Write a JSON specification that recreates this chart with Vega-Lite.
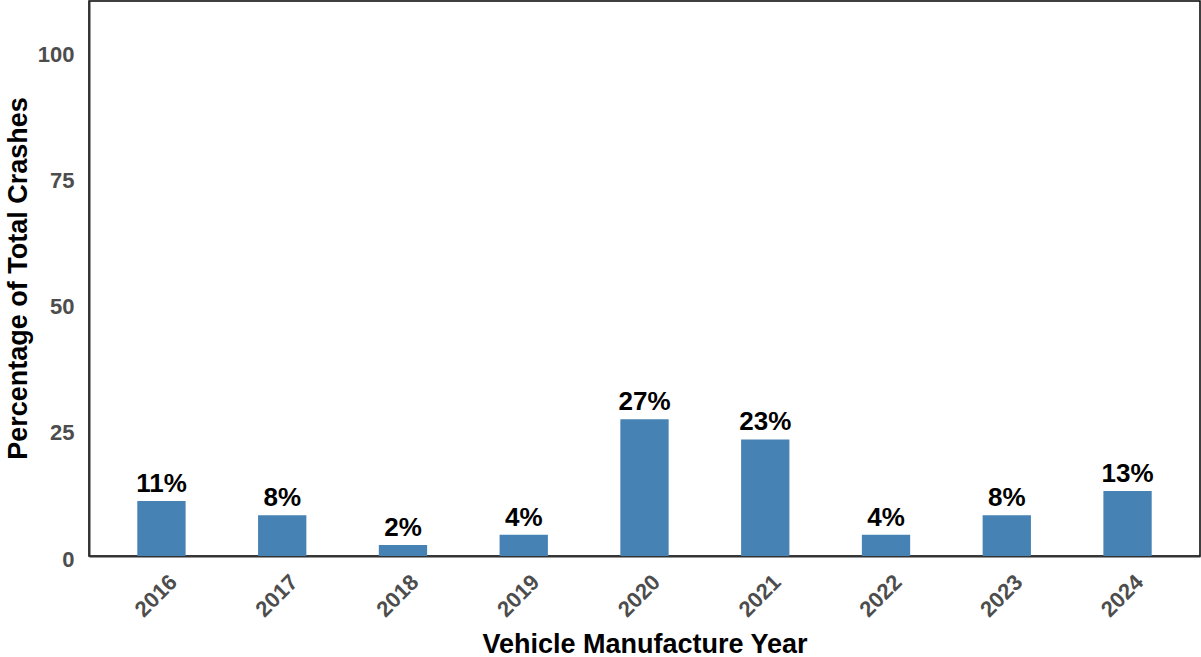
{
  "$schema": "https://vega.github.io/schema/vega-lite/v6.json",
  "width": 1111,
  "height": 555,
  "autosize": "none",
  "padding": {"left": 89, "top": 1, "right": 1, "bottom": 101},
  "background": "white",
  "config": {
    "font": "Liberation Sans",
    "view": {"stroke": "#000000", "strokeWidth": 1.5},
    "axis": {"grid": false, "ticks": false, "domainColor": "#333333", "domainWidth": 2}
  },
  "data": {
    "values": [
      {"year": "2016", "pct": 10.9, "label": "11%"},
      {"year": "2017", "pct": 8.1, "label": "8%"},
      {"year": "2018", "pct": 2.2, "label": "2%"},
      {"year": "2019", "pct": 4.2, "label": "4%"},
      {"year": "2020", "pct": 27.1, "label": "27%"},
      {"year": "2021", "pct": 23.1, "label": "23%"},
      {"year": "2022", "pct": 4.2, "label": "4%"},
      {"year": "2023", "pct": 8.1, "label": "8%"},
      {"year": "2024", "pct": 12.9, "label": "13%"}
    ]
  },
  "encoding": {
    "x": {
      "field": "year",
      "type": "nominal",
      "sort": null,
      "scale": {"paddingInner": 0.6, "paddingOuter": 0.4},
      "axis": {
        "title": "Vehicle Manufacture Year",
        "titleFontSize": 27,
        "titleFontWeight": "bold",
        "titleColor": "#000000",
        "titleBaseline": "alphabetic",
        "titleY": 96,
        "labelAngle": -45,
        "labelAlign": "right",
        "labelBaseline": "top",
        "labelFontSize": 22,
        "labelFontWeight": "bold",
        "labelColor": "#4d4d4d",
        "labelPadding": 15,
        "labelOffset": 5
      }
    },
    "y": {
      "field": "pct",
      "type": "quantitative",
      "scale": {"domain": [0, 110], "nice": false},
      "axis": {
        "title": "Percentage of Total Crashes",
        "titleFontSize": 27,
        "titleFontWeight": "bold",
        "titleColor": "#000000",
        "titleAngle": -90,
        "titleBaseline": "alphabetic",
        "titleAlign": "center",
        "titleX": -63,
        "titleY": 277,
        "values": [0, 25, 50, 75, 100],
        "labelFontSize": 22,
        "labelFontWeight": "bold",
        "labelColor": "#4d4d4d",
        "labelPadding": 15,
        "labelOffset": 3
      }
    }
  },
  "layer": [
    {"mark": {"type": "bar", "color": "#4682b4"}},
    {
      "mark": {"type": "text", "fontSize": 26, "fontWeight": "bold", "color": "#000000", "baseline": "alphabetic", "dy": -9},
      "encoding": {"text": {"field": "label"}}
    }
  ]
}
